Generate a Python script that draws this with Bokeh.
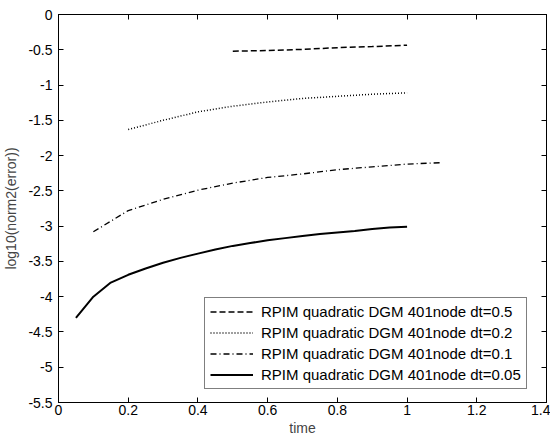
from bokeh.plotting import figure
from bokeh.models import FixedTicker, LinearAxis, Legend, LegendItem, Range1d
from bokeh.embed import file_html
from bokeh.resources import INLINE

# data
t_05 = [0.5, 0.6, 0.7, 0.8, 0.9, 1.0]
e_05 = [-0.52, -0.51, -0.495, -0.47, -0.455, -0.435]

t_02 = [0.2, 0.3, 0.4, 0.5, 0.6, 0.7, 0.8, 0.9, 1.0]
e_02 = [-1.63, -1.5, -1.38, -1.3, -1.24, -1.19, -1.16, -1.13, -1.11]

t_01 = [0.1, 0.2, 0.3, 0.4, 0.5, 0.6, 0.7, 0.8, 0.9, 1.0, 1.1]
e_01 = [-3.08, -2.78, -2.62, -2.49, -2.39, -2.31, -2.26, -2.2, -2.16, -2.12, -2.1]

t_005 = [0.05, 0.1, 0.15, 0.2, 0.25, 0.3, 0.35, 0.4, 0.45, 0.5, 0.55, 0.6,
         0.65, 0.7, 0.75, 0.8, 0.85, 0.9, 0.95, 1.0]
e_005 = [-4.3, -4.0, -3.8, -3.69, -3.6, -3.52, -3.45, -3.39, -3.33, -3.28, -3.24,
         -3.2, -3.17, -3.14, -3.11, -3.09, -3.07, -3.04, -3.02, -3.01]

labels = ["RPIM quadratic DGM 401node dt=0.5",
          "RPIM quadratic DGM 401node dt=0.2",
          "RPIM quadratic DGM 401node dt=0.1",
          "RPIM quadratic DGM 401node dt=0.05"]

x_ticks = [0, 0.2, 0.4, 0.6, 0.8, 1.0, 1.2, 1.4]
x_tick_labels = ["0", "0.2", "0.4", "0.6", "0.8", "1", "1.2", "1.4"]
y_ticks = [0, -0.5, -1, -1.5, -2, -2.5, -3, -3.5, -4, -4.5, -5, -5.5]
y_tick_labels = ["0", "-0.5", "-1", "-1.5", "-2", "-2.5", "-3", "-3.5", "-4", "-4.5", "-5", "-5.5"]

FONT = "Liberation Sans"

p = figure(frame_width=488, frame_height=388, output_backend="svg", toolbar_location=None,
           x_range=Range1d(0, 1.4), y_range=Range1d(-5.5, 0),
           min_border_left=53, min_border_right=4, min_border_top=14, min_border_bottom=4)
p.grid.visible = False
p.outline_line_color = "black"
p.outline_line_width = 1
p.background_fill_color = "white"
p.border_fill_color = "white"

for ax in (p.xaxis[0], p.yaxis[0]):
    ax.major_tick_in = 5
    ax.major_tick_out = 0
    ax.minor_tick_line_color = None
    ax.major_label_text_font = FONT
    ax.major_label_text_font_size = "14px"
    ax.major_label_text_color = "black"
    ax.axis_label_text_font = FONT
    ax.axis_label_text_font_size = "14px"
    ax.axis_label_text_font_style = "normal"
    ax.axis_line_color = "black"

p.xaxis[0].ticker = FixedTicker(ticks=x_ticks)
p.xaxis[0].major_label_overrides = {float(k): v for k, v in zip(x_ticks, x_tick_labels)}
p.xaxis[0].axis_label = "time"
p.xaxis[0].axis_label_standoff = 2
p.xaxis[0].major_label_standoff = 2
p.yaxis[0].ticker = FixedTicker(ticks=y_ticks)
p.yaxis[0].major_label_overrides = {float(k): v for k, v in zip(y_ticks, y_tick_labels)}
p.yaxis[0].axis_label = "log10(norm2(error))"
p.yaxis[0].axis_label_standoff = 6
p.yaxis[0].major_label_standoff = 6

top = LinearAxis(ticker=FixedTicker(ticks=x_ticks), major_label_text_font_size="0px",
                 major_tick_in=5, major_tick_out=0, minor_tick_line_color=None,
                 major_label_text_color=None, major_label_standoff=0)
right = LinearAxis(ticker=FixedTicker(ticks=y_ticks), major_label_text_font_size="0px",
                   major_tick_in=5, major_tick_out=0, minor_tick_line_color=None,
                   major_label_text_color=None, major_label_standoff=0)
p.add_layout(top, "above")
p.add_layout(right, "right")

r1 = p.line(t_05, e_05, line_color="black", line_width=1.5, line_dash="6 3")
r2 = p.line(t_02, e_02, line_color="black", line_width=1.5, line_dash="1 2")
r3 = p.line(t_01, e_01, line_color="black", line_width=1.3, line_dash="6 3 1 3")
r4 = p.line(t_005, e_005, line_color="black", line_width=2)

legend = Legend(items=[LegendItem(label=labels[0], renderers=[r1]),
                       LegendItem(label=labels[1], renderers=[r2]),
                       LegendItem(label=labels[2], renderers=[r3]),
                       LegendItem(label=labels[3], renderers=[r4])],
                location=(146, 13))
legend.label_text_font = FONT
legend.label_text_font_size = "15px"
legend.label_text_color = "black"
legend.glyph_width = 43
legend.glyph_height = 17
legend.label_height = 17
legend.spacing = 4
legend.padding = 5
legend.margin = 0
legend.border_line_color = "black"
legend.border_line_width = 1
legend.background_fill_alpha = 1
legend.label_standoff = 8
p.add_layout(legend, "center")

open("out.html", "w").write(file_html(p, INLINE))
